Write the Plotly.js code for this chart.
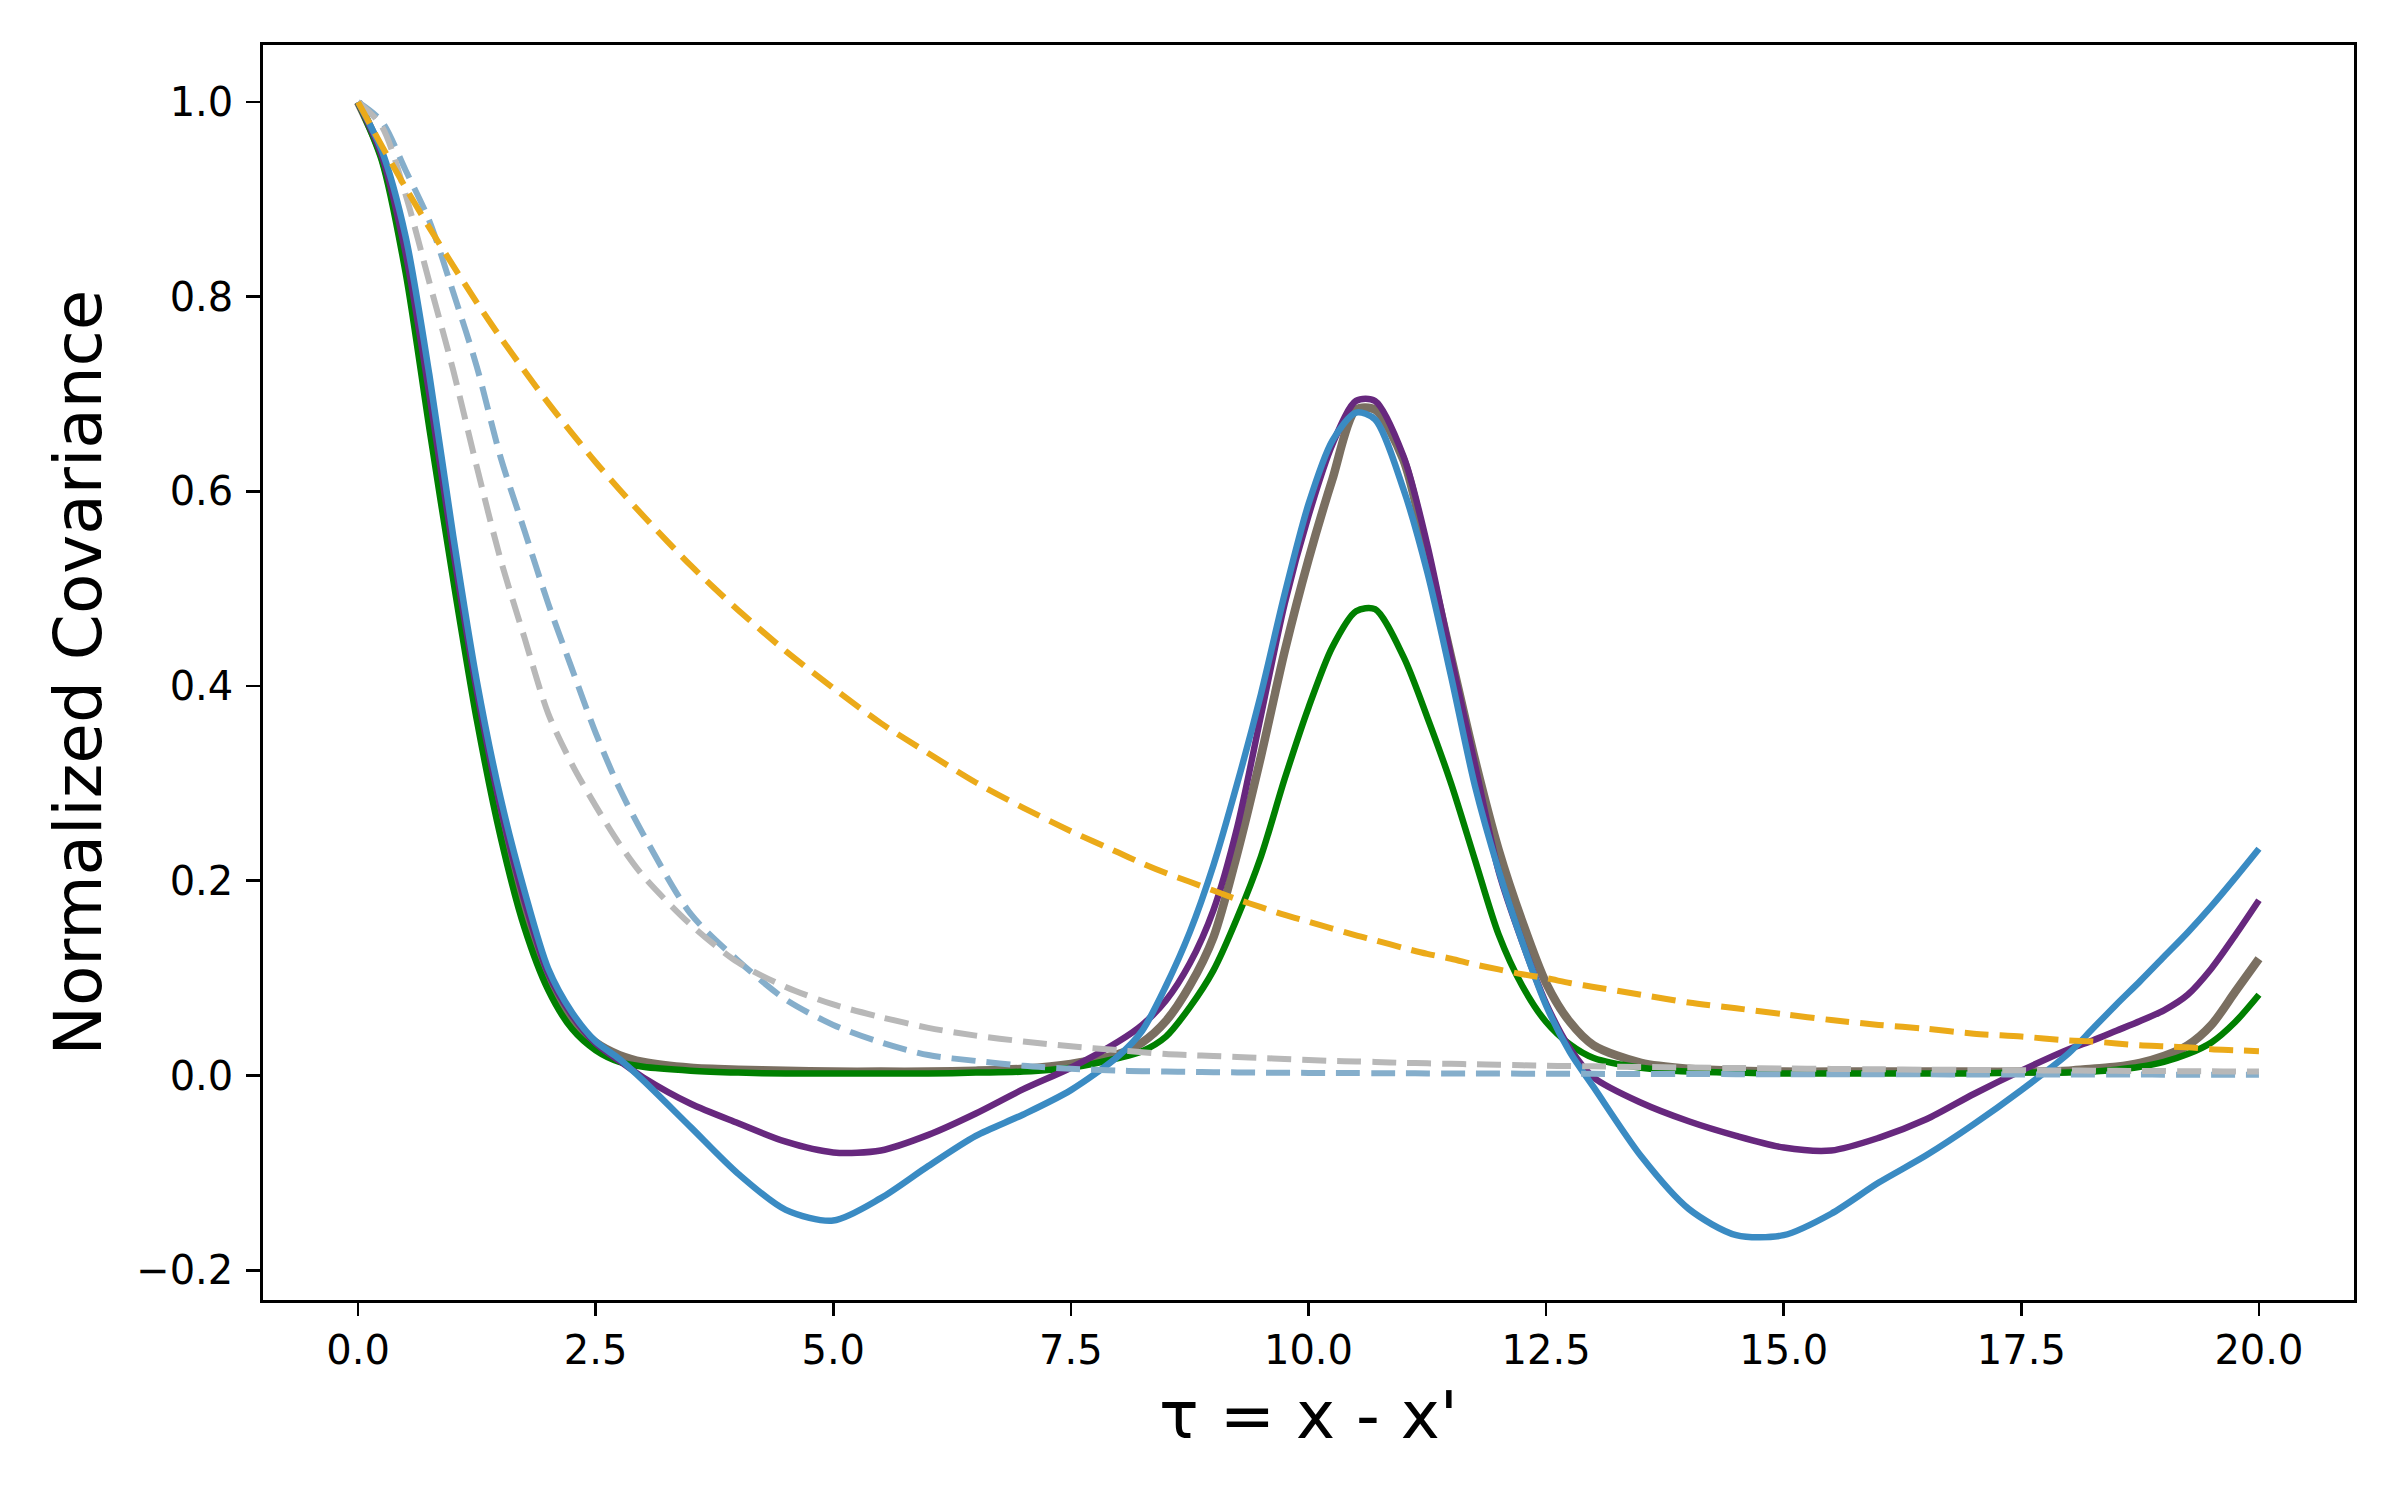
<!DOCTYPE html>
<html>
<head>
<meta charset="utf-8">
<script src="https://cdn.plot.ly/plotly-3.0.1.min.js"></script>
<style>
  html, body { margin: 0; padding: 0; background: #ffffff; }
  #chart { width: 2400px; height: 1500px; }
</style>
</head>
<body>
<div id="chart"></div>
<script>
const tau = [0,0.25,0.5,0.75,1,1.25,1.5,1.75,2,2.25,2.5,2.75,3,3.5,4,4.5,5,5.5,6,6.5,7,7.5,8,8.25,8.5,8.75,9,9.25,9.5,9.75,10,10.25,10.5,10.7,11,11.25,11.5,11.75,12,12.25,12.5,12.75,13,13.5,14,14.5,15,15.5,16,16.5,17,17.5,18,18.25,18.5,18.75,19,19.25,19.5,19.75,20];

const brownSeries = [1.0,0.945,0.84,0.69,0.53,0.385,0.265,0.17,0.1,0.058,0.034,0.021,0.014,
  0.008,0.006,0.005,0.004,0.004,0.004,0.005,0.007,0.012,
  0.022,0.034,0.056,0.092,0.142,0.228,0.328,0.436,0.53,0.612,0.684,0.684,0.632,0.535,0.43,0.325,0.232,0.158,0.095,0.055,0.031,
  0.013,0.007,0.005,0.004,0.004,0.004,0.004,0.004,0.004,
  0.005,0.007,0.009,0.013,0.02,0.031,0.052,0.086,0.12];

const greenSeries = [1.0,0.94,0.825,0.665,0.51,0.365,0.245,0.152,0.088,0.048,0.026,0.014,0.009,
  0.005,0.003,0.002,0.002,0.002,0.002,0.003,0.004,0.008,
  0.018,0.025,0.04,0.07,0.108,0.162,0.225,0.305,0.378,0.44,0.477,0.479,0.43,0.368,0.30,0.222,0.145,0.092,0.055,0.032,0.018,
  0.008,0.004,0.003,0.002,0.002,0.002,0.002,0.002,0.003,
  0.003,0.004,0.006,0.009,0.014,0.022,0.034,0.055,0.083];

const purpleSeries = [1.0,0.945,0.845,0.70,0.54,0.395,0.275,0.18,0.105,0.062,0.033,0.015,-0.002,
  -0.029,-0.049,-0.068,-0.079,-0.077,-0.061,-0.039,-0.014,0.008,
  0.035,0.052,0.077,0.115,0.17,0.255,0.37,0.485,0.575,0.648,0.693,0.693,0.636,0.545,0.43,0.32,0.21,0.137,0.074,0.028,-0.002,
  -0.028,-0.047,-0.062,-0.074,-0.077,-0.064,-0.045,-0.019,0.005,
  0.027,0.036,0.046,0.056,0.067,0.083,0.11,0.144,0.18];

const blueSeries = [1.0,0.95,0.862,0.72,0.555,0.405,0.285,0.19,0.11,0.065,0.035,0.017,-0.005,
  -0.053,-0.101,-0.138,-0.149,-0.126,-0.093,-0.062,-0.04,-0.015,
  0.02,0.046,0.092,0.147,0.216,0.30,0.392,0.495,0.587,0.652,0.681,0.674,0.602,0.517,0.41,0.298,0.211,0.137,0.072,0.024,-0.012,
  -0.083,-0.137,-0.164,-0.164,-0.142,-0.11,-0.082,-0.05,-0.015,
  0.023,0.048,0.073,0.097,0.122,0.147,0.174,0.203,0.233];

const lightBlueDashed = [1.0,0.98,0.93,0.878,0.805,0.728,0.635,0.56,0.485,0.418,0.352,0.295,0.248,
  0.166,0.118,0.078,0.052,0.034,0.021,0.015,0.01,0.007,
  0.005,0.0045,0.004,0.0037,0.0034,0.0032,0.003,0.0028,0.0027,0.0026,0.0025,0.0024,0.0023,0.0022,0.0021,0.002,0.002,0.0019,0.0018,0.0018,0.0017,
  0.0016,0.0015,0.0014,0.0013,0.0013,0.0012,0.0012,0.0011,0.0011,
  0.001,0.001,0.001,0.001,0.0009,0.0009,0.0009,0.0009,0.0008];

const grayDashed = [1.0,0.975,0.905,0.815,0.725,0.625,0.53,0.45,0.372,0.32,0.277,0.238,0.205,
  0.155,0.116,0.091,0.073,0.06,0.049,0.041,0.035,0.03,
  0.026,0.024,0.022,0.021,0.02,0.019,0.018,0.017,0.016,0.015,0.0145,0.014,0.013,0.0125,0.012,0.0115,0.011,0.0105,0.01,0.0097,0.0094,
  0.0088,0.0082,0.0077,0.0072,0.0068,0.0064,0.006,0.0057,0.0054,
  0.0051,0.005,0.0048,0.0047,0.0046,0.0044,0.0043,0.0042,0.004];

const orangeDashed = [1.0,0.955,0.912,0.871,0.832,0.794,0.758,0.724,0.691,0.66,0.63,0.602,0.575,
  0.524,0.478,0.436,0.398,0.362,0.331,0.301,0.275,0.251,
  0.229,0.218,0.208,0.199,0.19,0.181,0.173,0.165,0.158,0.151,0.144,0.139,0.131,0.125,0.12,0.114,0.109,0.104,0.1,0.095,0.091,
  0.083,0.075,0.069,0.063,0.057,0.052,0.048,0.043,0.04,
  0.036,0.035,0.033,0.031,0.03,0.029,0.027,0.026,0.025];

const xTickVals = [0, 2.5, 5, 7.5, 10, 12.5, 15, 17.5, 20];
const xTickText = ["0.0", "2.5", "5.0", "7.5", "10.0", "12.5", "15.0", "17.5", "20.0"];
const yTickVals = [-0.2, 0, 0.2, 0.4, 0.6, 0.8, 1.0];
const yTickText = ["\u22120.2", "0.0", "0.2", "0.4", "0.6", "0.8", "1.0"];

function solid(y, color, width) {
  return { x: tau, y: y, type: 'scatter', mode: 'lines', hoverinfo: 'skip',
    line: { color: color, width: width, shape: 'spline', smoothing: 0.8 } };
}
function dashed(y, color, width) {
  return { x: tau, y: y, type: 'scatter', mode: 'lines', hoverinfo: 'skip',
    line: { color: color, width: width, dash: '24px,11px', shape: 'spline', smoothing: 0.8 } };
}

const traces = [
  solid(brownSeries, '#7a6f61', 8.5),
  solid(greenSeries, '#008000', 6.5),
  solid(purpleSeries, '#67287e', 6.5),
  solid(blueSeries, '#3a8bc3', 6.5),
  dashed(lightBlueDashed, '#85aecb', 6),
  dashed(grayDashed, '#b8b8b8', 6),
  dashed(orangeDashed, '#ebaa19', 6)
];

const font = { family: 'DejaVu Sans', color: '#000000' };

const layout = {
  width: 2400, height: 1500,
  paper_bgcolor: '#ffffff', plot_bgcolor: '#ffffff',
  showlegend: false,
  margin: { l: 263, r: 46, t: 45, b: 200, pad: 0 },
  font: font,
  xaxis: {
    range: [-1, 21], tickmode: 'array', tickvals: xTickVals, ticktext: xTickText,
    ticks: 'outside', ticklen: 13, tickwidth: 2.7, tickcolor: '#000000',
    showline: true, linewidth: 2.7, linecolor: '#000000', mirror: true,
    showgrid: false, zeroline: false, ticklabelstandoff: 0,
    tickfont: { family: 'DejaVu Sans', size: 40, color: '#000000' },
    title: { text: "\u03c4 = x - x'", font: { family: 'DejaVu Sans', size: 66, color: '#000000' }, standoff: 20 }
  },
  yaxis: {
    range: [-0.2306, 1.0586], tickmode: 'array', tickvals: yTickVals, ticktext: yTickText,
    ticks: 'outside', ticklen: 14, tickwidth: 2.7, tickcolor: '#000000',
    showline: true, linewidth: 2.7, linecolor: '#000000', mirror: true,
    showgrid: false, zeroline: false, ticklabelstandoff: 5,
    tickfont: { family: 'DejaVu Sans', size: 40, color: '#000000' },
    title: { text: 'Normalized Covariance', font: { family: 'DejaVu Sans', size: 66, color: '#000000' }, standoff: 13 }
  }
};

Plotly.newPlot('chart', traces, layout, { staticPlot: true, displayModeBar: false });
</script>
</body>
</html>
